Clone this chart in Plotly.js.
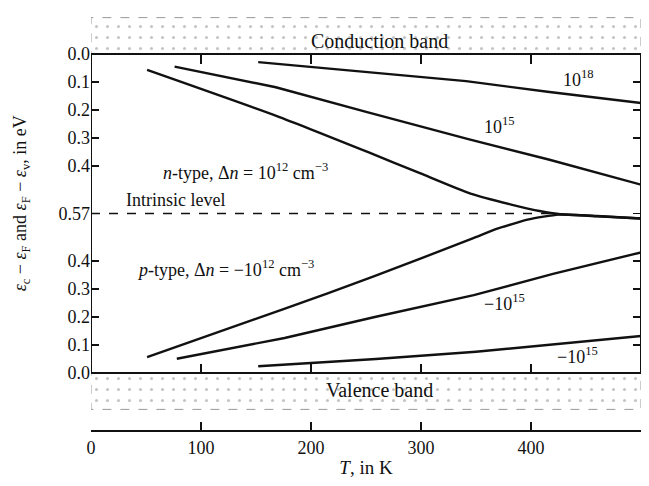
<!DOCTYPE html>
<html>
<head>
<meta charset="utf-8">
<script src="https://cdn.plot.ly/plotly-3.0.1.min.js"></script>
<style>
  html, body { margin: 0; padding: 0; background: #ffffff; }
  #chart { width: 649px; height: 486px; }
</style>
</head>
<body>
<div id="chart"></div>
<script>
// Band gap (eV) and band-edge labels
const EG = 1.14;
const MIDGAP = 0.57;

// n-type curves: values are eps_c - eps_F (eV) vs T (K)
const T_n18  = [152, 250, 341, 415, 500];
const E_n18  = [0.029, 0.063, 0.097, 0.135, 0.175];
const T_n15  = [76, 168, 251, 343, 416, 500];
const E_n15  = [0.045, 0.119, 0.208, 0.304, 0.377, 0.467];
const T_n12  = [51, 169, 252, 299, 345, 382, 409, 425, 460, 500];
const E_n12  = [0.057, 0.222, 0.351, 0.426, 0.499, 0.538, 0.562, 0.572, 0.580, 0.588];

// p-type curves: values are eps_F - eps_v (eV) vs T (K)
const T_p12  = [51, 175, 257, 347, 368, 398, 425, 460, 500];
const E_p12  = [0.057, 0.228, 0.345, 0.481, 0.514, 0.549, 0.566, 0.561, 0.552];
const T_p15  = [78, 176, 258, 348, 420, 500];
const E_p15  = [0.051, 0.125, 0.200, 0.278, 0.354, 0.431];
const T_p18  = [152, 259, 350, 500];
const E_p18  = [0.024, 0.050, 0.076, 0.132];

// Intrinsic level
const T_int = [0, 420];
const E_int = [MIDGAP, MIDGAP];

// Axis ticks
const T_ticks = [0, 100, 200, 300, 400, 500];
const frameTicks = [100, 200, 300, 400];
const lowerLabels = [0.0, 0.1, 0.2, 0.3, 0.4];   // eps_F - eps_v
const upperLabels = [0.0, 0.1, 0.2, 0.3, 0.4];   // eps_c - eps_F

// Band boxes (height in eV outside the gap)
const bandDepth = 0.13;

const yMin = -0.2037, yMax = 1.2972;
const FONT = "Liberation Serif, Times New Roman, serif";

const lineStyle = {color: '#111', width: 2.4};
const fromTop = arr => arr.map(v => EG - v);

const tickVals = [], tickText = [];
lowerLabels.forEach(v => { tickVals.push(v); tickText.push(v.toFixed(1)); });
tickVals.push(MIDGAP); tickText.push(MIDGAP.toFixed(2));
upperLabels.slice().reverse().forEach(v => { tickVals.push(EG - v); tickText.push(v.toFixed(1)); });

const frac = v => (v - yMin) / (yMax - yMin);

const stipple = {shape: '.', fgcolor: '#c4c4c4', bgcolor: '#fff', size: 11, solidity: 0.06};

const traces = [
  // band boxes with stipple
  {x: [0, 500, 500, 0, 0], y: [EG, EG, EG + bandDepth, EG + bandDepth, EG],
   mode: 'lines', fill: 'toself', fillcolor: 'rgba(0,0,0,0)', fillpattern: stipple,
   line: {color: '#999', width: 1, dash: 'dash'}, hoverinfo: 'skip'},
  {x: [0, 500, 500, 0, 0], y: [0, 0, -bandDepth, -bandDepth, 0],
   mode: 'lines', fill: 'toself', fillcolor: 'rgba(0,0,0,0)', fillpattern: stipple,
   line: {color: '#999', width: 1, dash: 'dash'}, hoverinfo: 'skip'},
  // intrinsic level
  {x: T_int, y: E_int, mode: 'lines', line: {color: '#111', width: 1.5, dash: 'dash'}},
  // n-type
  {x: T_n18, y: fromTop(E_n18), mode: 'lines', line: lineStyle},
  {x: T_n15, y: fromTop(E_n15), mode: 'lines', line: lineStyle},
  {x: T_n12, y: fromTop(E_n12), mode: 'lines', line: Object.assign({shape: 'spline', smoothing: 0.5}, lineStyle)},
  // p-type
  {x: T_p12, y: E_p12, mode: 'lines', line: Object.assign({shape: 'spline', smoothing: 0.5}, lineStyle)},
  {x: T_p15, y: E_p15, mode: 'lines', line: lineStyle},
  {x: T_p18, y: E_p18, mode: 'lines', line: lineStyle},
  // helper (empty) traces so the extra tick axes exist
  {x: [], y: [], xaxis: 'x2', yaxis: 'y'},
  {x: [], y: [], xaxis: 'x3', yaxis: 'y'},
  {x: [], y: [], xaxis: 'x', yaxis: 'y2'}
];

const ann = (x, y, text, opts) => Object.assign({
  x: x, y: y, xref: 'x', yref: 'y', text: text, showarrow: false,
  font: {family: FONT, size: 18, color: '#111'}, xanchor: 'left', yanchor: 'middle'
}, opts || {});

const layout = {
  width: 649, height: 486,
  margin: {l: 91, r: 8, t: 10, b: 56},
  paper_bgcolor: '#fff', plot_bgcolor: '#fff',
  showlegend: false,
  font: {family: FONT, size: 18, color: '#111'},
  xaxis: {
    range: [0, 500], tickvals: T_ticks, ticktext: T_ticks.map(String),
    ticks: 'inside', ticklen: 8, tickwidth: 1.5, tickcolor: '#111',
    showline: true, linewidth: 2, linecolor: '#111', mirror: false,
    showgrid: false, zeroline: false,
    tickfont: {family: FONT, size: 18},
    title: {text: '<i>T</i>, in K', font: {family: FONT, size: 19}, standoff: 4}
  },
  xaxis2: {
    range: [0, 500], overlaying: 'x', side: 'top', anchor: 'free', position: frac(EG),
    tickvals: frameTicks, ticks: 'inside', ticklen: 9, tickwidth: 1.5, tickcolor: '#111',
    showticklabels: false, showline: false, showgrid: false, zeroline: false
  },
  xaxis3: {
    range: [0, 500], overlaying: 'x', side: 'bottom', anchor: 'free', position: frac(0),
    tickvals: frameTicks, ticks: 'inside', ticklen: 9, tickwidth: 1.5, tickcolor: '#111',
    showticklabels: false, showline: false, showgrid: false, zeroline: false
  },
  yaxis: {
    range: [yMin, yMax], tickvals: tickVals, ticktext: tickText,
    ticks: 'inside', ticklen: 8, tickwidth: 1.5, tickcolor: '#111',
    showline: false, showgrid: false, zeroline: false,
    tickfont: {family: FONT, size: 18}
  },
  yaxis2: {
    range: [yMin, yMax], overlaying: 'y', side: 'right', anchor: 'x',
    tickvals: tickVals.slice(1, -1), ticks: 'inside', ticklen: 8, tickwidth: 1.5, tickcolor: '#111',
    showticklabels: false, showline: false, showgrid: false, zeroline: false
  },
  shapes: [
    {type: 'rect', xref: 'x', yref: 'y', x0: 0, x1: 500, y0: 0, y1: EG,
     line: {color: '#111', width: 2}}
  ],
  annotations: [
    ann(262, EG + 0.046, 'Conduction band', {xanchor: 'center', font: {family: FONT, size: 20, color: '#111'}}),
    ann(262, -0.06, 'Valence band', {xanchor: 'center', font: {family: FONT, size: 20, color: '#111'}}),
    ann(443, EG - 0.087, '10<sup>18</sup>', {xanchor: 'center'}),
    ann(371, EG - 0.254, '10<sup>15</sup>', {xanchor: 'center'}),
    ann(64, 0.72, '<i>n</i>-type, Δ<i>n</i> = 10<sup>12</sup> cm<sup>−3</sup>'),
    ann(30, 0.62, 'Intrinsic level'),
    ann(40, 0.373, '<i>p</i>-type, Δ<i>n</i> = −10<sup>12</sup> cm<sup>−3</sup>'),
    ann(355, 0.252, '−10<sup>15</sup>'),
    ann(422, 0.062, '−10<sup>15</sup>'),
    {xref: 'paper', yref: 'paper', x: -0.127, y: 0.54, xanchor: 'center', yanchor: 'middle',
     textangle: -90, showarrow: false,
     text: '<i>ε</i><sub>c</sub> − <i>ε</i><sub>F</sub> and <i>ε</i><sub>F</sub> − <i>ε</i><sub>v</sub>, in eV',
     font: {family: FONT, size: 18, color: '#111'}}
  ]
};

Plotly.newPlot('chart', traces, layout, {displayModeBar: false, staticPlot: true});
</script>
</body>
</html>
